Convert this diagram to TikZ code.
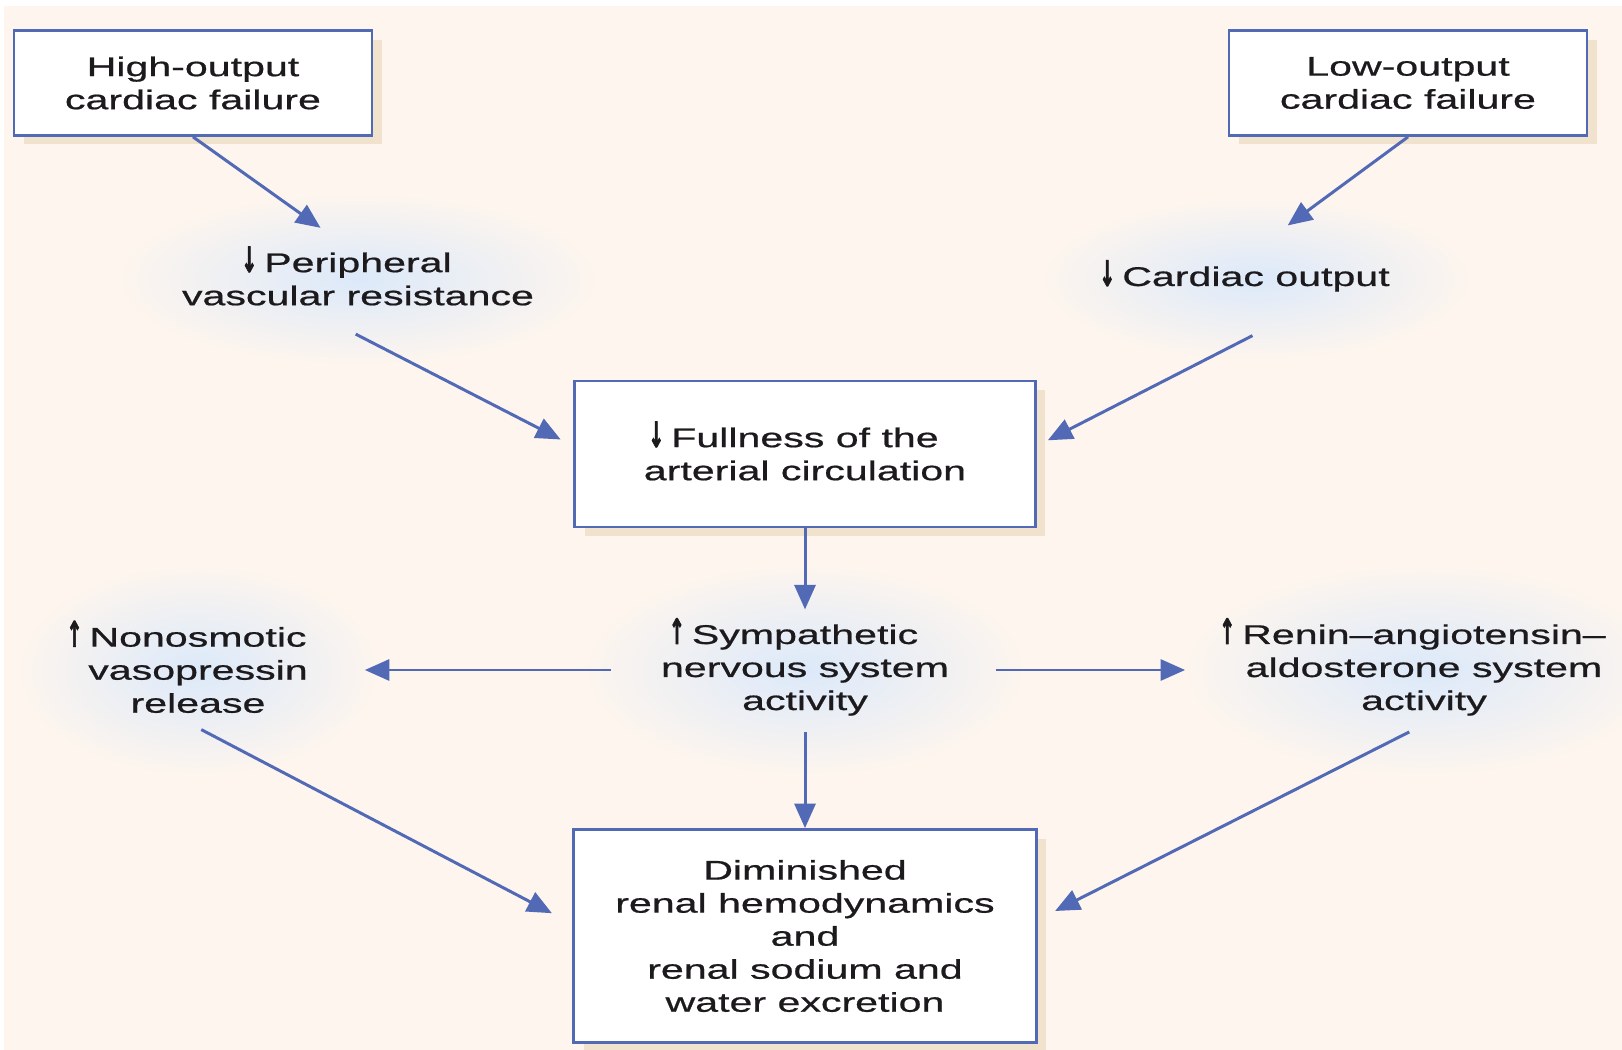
\documentclass[tikz,border=0pt]{standalone}
\usepackage{fontspec}
\setmainfont{Liberation Sans}[FakeStretch=1.52, FakeBold=0.7]
\newfontfamily\arrowfont{DejaVu Sans Bold}[FakeBold=2.5]
\usetikzlibrary{arrows.meta,backgrounds,shadows}

\definecolor{paper}{RGB}{253,245,238}
\definecolor{glow}{RGB}{220,233,250}
\definecolor{edgeblue}{RGB}{82,106,182}
\definecolor{tanshade}{RGB}{240,226,204}
\definecolor{ink}{RGB}{28,26,28}

\newcommand{\incr}{\leavevmode\llap{\smash{\scalebox{0.7}[1.3]{\arrowfont ↑}}\hspace{4pt}}}
\newcommand{\decr}{\leavevmode\llap{\smash{\scalebox{0.7}[1.3]{\arrowfont ↓}}\hspace{4pt}}}

\begin{document}
\begin{tikzpicture}[x=0.02cm, y=-0.02cm,
  every node/.style={font=\fontsize{15.4}{18.8}\selectfont, text=ink, align=center},
  box/.style={draw=edgeblue, line width=1.6pt, fill=white,
    drop shadow={shadow xshift=0.2cm, shadow yshift=-0.18cm, fill=tanshade, opacity=1}},
  txt/.style={inner sep=2.3pt, minimum height=1.42cm},
  arr/.style={color=edgeblue, line width=1.7pt, -{Triangle[length=14pt,width=12pt]}}]
  \useasboundingbox (0,0) rectangle (1622,1050);

  \node[box, minimum width=7.16cm, minimum height=2.1cm] (hi) at (193,83) {High-output\\cardiac failure};
  \node[box, minimum width=7.16cm, minimum height=2.1cm] (lo) at (1408,83) {Low-output\\cardiac failure};
  \node[txt] (peri) at (358,279) {\decr Peripheral\\vascular resistance};
  \node[txt] (card) at (1256,279) {\decr Cardiac output};
  \node[box, minimum width=9.22cm, minimum height=2.92cm] (full) at (805,454) {\decr Fullness of the\\arterial circulation};
  \node[txt] (nono) at (198,670) {\incr Nonosmotic\\vasopressin\\release};
  \node[txt] (symp) at (805,670) {\incr Sympathetic\\nervous system\\activity};
  \node[txt] (renin) at (1424,670) {\incr Renin–angiotensin–\\aldosterone system\\activity};
  \node[box, minimum width=9.26cm, minimum height=4.26cm] (dim) at (805,936) {Diminished\\renal hemodynamics\\and\\renal sodium and\\water excretion};

  \path[arr]
  (hi.south) edge[shorten >=15pt] (peri.114)
  (lo.south) edge[shorten >=17pt] (card.78)
  (peri.222) edge[shorten <=24pt, shorten >=8pt] (full.178)
  (card.316) edge[shorten <=26pt, shorten >=7pt] (full.2)
  (full.south) edge[shorten >=6pt] (symp.north)
  (symp.west) edge[shorten <=26pt, shorten >=30pt] (nono.east)
  (symp.east) edge[shorten <=24pt, shorten >=30pt] (renin.west)
  (symp.south) edge[shorten <=7pt] (dim.north)
  (nono.247) edge[shorten <=15pt, shorten >=13pt] (dim.177)
  (renin.280) edge[shorten <=15pt, shorten >=11pt] (dim.4);

  \begin{scope}[on background layer]
    \fill[white] (0,0) rectangle (1622,1050);
    \fill[paper] (4,6) rectangle (1622,1050);
    \foreach \n/\rx/\ry in {peri/240/85, card/215/80, nono/180/105, symp/220/105, renin/240/105}
      \shade[inner color=glow, outer color=paper] (\n) ellipse ({\rx} and {\ry});
  \end{scope}
\end{tikzpicture}
\end{document}
